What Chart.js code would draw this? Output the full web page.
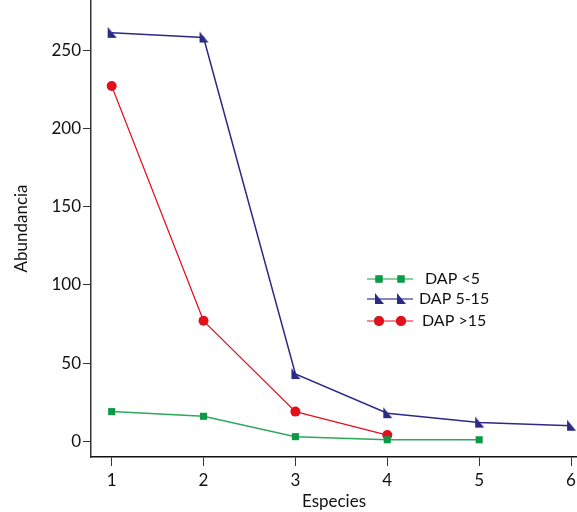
<!DOCTYPE html>
<html>
<head>
<meta charset="utf-8">
<script src="https://cdn.jsdelivr.net/npm/chart.js@4/dist/chart.umd.min.js"></script>
<style>
  html, body { margin: 0; padding: 0; background: #fff; }
  #wrap { width: 577px; height: 512px; position: relative; }
</style>
</head>
<body>
<div id="wrap"><canvas id="abundancia"></canvas></div>
<script>
// datos
const especies = [1, 2, 3, 4, 5, 6];
const yTicks = [0, 50, 100, 150, 200, 250];
const dapMenor5 = [19, 16, 3, 1, 1];
const dap5a15 = [261, 258, 43, 18, 12, 10];
const dapMayor15 = [227, 77, 19, 4];
const seriesNames = ["DAP <5", "DAP 5-15", "DAP >15"];

const FONT = "Lato, 'Liberation Sans', sans-serif";

// marcador triangular (angulo recto abajo a la izquierda)
function triangulo(color) {
    const c = document.createElement("canvas");
    c.width = 12;
    c.height = 14;
    const ctx = c.getContext("2d");
    ctx.fillStyle = color;
    ctx.beginPath();
    ctx.moveTo(2, 1);
    ctx.lineTo(2, 12);
    ctx.lineTo(11, 12);
    ctx.closePath();
    ctx.fill();
    return c;
}

function puntos(values) {
    return values.map((v, i) => ({x: especies[i], y: v}));
}

const navy = "#2b2a86";
const green = "#0c9a48";
const red = "#e3101c";
const triNavy = triangulo(navy);

// leyenda dibujada a mano: linea con dos marcadores
const leyenda = {
    id: "leyenda",
    afterDraw(chart) {
        const ctx = chart.ctx;
        const rows = [279, 299, 321];
        const textX = [425, 419, 422];
        chart.data.datasets.forEach((ds, i) => {
            const y = rows[i];
            ctx.save();
            ctx.strokeStyle = ds.legendLine;
            ctx.lineWidth = 1.5;
            ctx.beginPath();
            ctx.moveTo(367, y);
            ctx.lineTo(413, y);
            ctx.stroke();
            [379, 401].forEach(x => {
                if (ds.pointStyle instanceof HTMLCanvasElement) {
                    ctx.drawImage(ds.pointStyle, x - 6, y - 7);
                } else {
                    Chart.helpers.drawPoint(ctx, {
                        pointStyle: ds.pointStyle,
                        radius: ds.pointRadius,
                        borderWidth: 0
                    }, x, y);
                    ctx.fillStyle = ds.pointBackgroundColor;
                    ctx.fill();
                }
            });
            ctx.fillStyle = "#111";
            ctx.font = "16px " + FONT;
            ctx.textBaseline = "middle";
            ctx.fillText(ds.label, textX[i], y);
            ctx.restore();
        });
    }
};

new Chart(document.getElementById("abundancia"), {
    type: "line",
    data: {
        datasets: [{
            label: seriesNames[0],
            data: puntos(dapMenor5),
            borderColor: "#2ea85a",
            borderWidth: 1.5,
            pointStyle: "rect",
            pointRadius: 5,
            pointBackgroundColor: green,
            pointBorderWidth: 0,
            legendLine: "#5cc07c",
            fill: false
        }, {
            label: seriesNames[1],
            data: puntos(dap5a15),
            borderColor: navy,
            borderWidth: 1.5,
            pointStyle: triNavy,
            pointBackgroundColor: navy,
            legendLine: "#5f5cae",
            fill: false
        }, {
            label: seriesNames[2],
            data: puntos(dapMayor15),
            borderColor: red,
            borderWidth: 1.2,
            pointStyle: "circle",
            pointRadius: 5,
            pointBackgroundColor: red,
            pointBorderWidth: 0,
            legendLine: "#ee6068",
            fill: false
        }]
    },
    options: {
        responsive: true,
        maintainAspectRatio: false,
        animation: false,
        clip: false,
        layout: { padding: 0, autoPadding: false },
        plugins: {
            legend: { display: false },
            tooltip: { enabled: false },
            title: { display: false }
        },
        scales: {
            x: {
                type: "linear",
                min: 0.775,
                max: 6.065,
                afterBuildTicks: s => { s.ticks = especies.map(v => ({value: v})); },
                afterFit: s => { s.height = 55; s.paddingLeft = 0; s.paddingRight = 0; },
                border: { color: "#111", width: 1.5 },
                grid: { drawOnChartArea: false, tickLength: 9, color: "#333", lineWidth: 1 },
                ticks: { padding: 4, color: "#111", font: { family: FONT, size: 17 } },
                title: {
                    display: true,
                    text: "Especies",
                    color: "#111",
                    font: { family: FONT, size: 17 },
                    padding: { top: 0, bottom: 0 }
                }
            },
            y: {
                min: -10,
                max: 282,
                afterBuildTicks: s => { s.ticks = yTicks.map(v => ({value: v})); },
                afterFit: s => { s.width = 91; s.paddingTop = 0; s.paddingBottom = 0; },
                border: { color: "#333", width: 1.5 },
                grid: { drawOnChartArea: false, tickLength: 8, color: "#333", lineWidth: 1 },
                ticks: { padding: 2, color: "#111", font: { family: FONT, size: 17 } },
                title: {
                    display: true,
                    text: "Abundancia",
                    color: "#111",
                    font: { family: FONT, size: 17 },
                    padding: { top: 11, bottom: 0 }
                }
            }
        }
    },
    plugins: [leyenda]
});
</script>
</body>
</html>
